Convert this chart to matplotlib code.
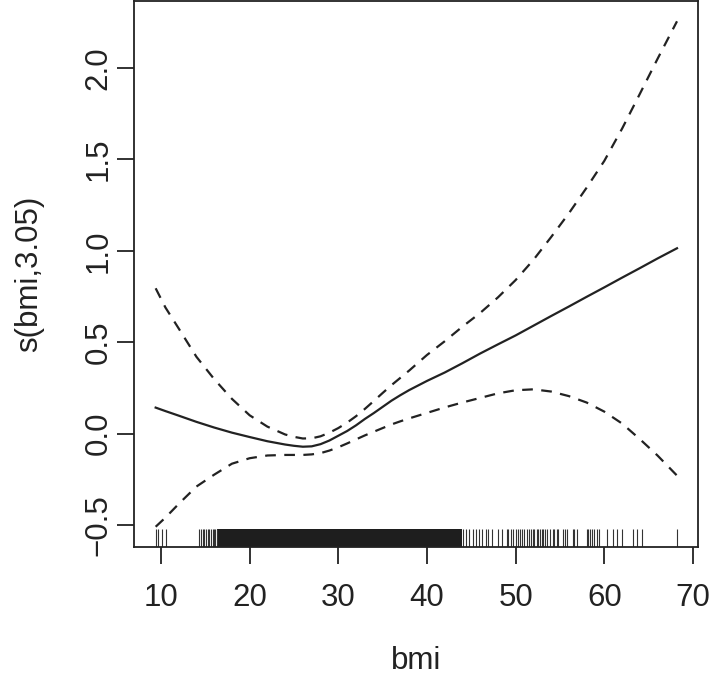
import matplotlib
matplotlib.use("Agg")
import matplotlib.pyplot as plt
from matplotlib.patches import Rectangle

plt.rcParams['font.family'] = ['Liberation Sans', 'DejaVu Sans']

# smooth term estimate and confidence band
bmi_grid = [9.4, 10.5, 12, 14, 16, 18, 20, 22, 24, 25, 26, 27, 28, 29, 30, 31, 32,
            33, 34, 35, 36, 37, 38, 40, 42, 44, 46, 48, 50, 52, 54, 56, 58, 60,
            62, 64, 66, 68.2]
fit = [0.142, 0.123, 0.098, 0.064, 0.033, 0.005, -0.019, -0.042, -0.060, -0.067,
       -0.072, -0.070, -0.058, -0.038, -0.012, 0.014, 0.045, 0.080, 0.112, 0.146,
       0.180, 0.210, 0.238, 0.288, 0.334, 0.385, 0.438, 0.488, 0.537, 0.590,
       0.643, 0.695, 0.748, 0.800, 0.853, 0.905, 0.958, 1.014]
upper = [0.795, 0.690, 0.575, 0.420, 0.298, 0.190, 0.100, 0.038, -0.005, -0.018,
         -0.027, -0.026, -0.015, 0.005, 0.030, 0.060, 0.095, 0.135, 0.178, 0.222,
         0.265, 0.305, 0.345, 0.430, 0.505, 0.585, 0.660, 0.745, 0.840, 0.950,
         1.075, 1.205, 1.345, 1.492, 1.668, 1.858, 2.050, 2.256]
lower = [-0.510, -0.460, -0.385, -0.290, -0.225, -0.165, -0.135, -0.120, -0.117, -0.117,
         -0.117, -0.114, -0.107, -0.093, -0.075, -0.054, -0.032, -0.010, 0.010, 0.030,
         0.050, 0.067, 0.083, 0.113, 0.143, 0.170, 0.195, 0.220, 0.237, 0.242,
         0.230, 0.205, 0.170, 0.120, 0.055, -0.030, -0.120, -0.230]

# rug of observed bmi values
rug_values = [9.4, 9.62, 10.15, 10.53,
              14.3, 14.5, 14.7, 14.85, 15.1, 15.25, 15.45, 15.6, 15.85, 16.0, 16.1, 16.3,
              44.10, 44.40, 44.77, 45.22, 45.53, 45.90, 46.17, 46.65, 46.92, 47.29,
              48.04, 48.42, 48.99, 49.17, 49.44, 49.73, 50.04, 50.30, 50.49, 50.68,
              50.94, 51.24, 51.54, 51.69, 51.92, 52.10, 52.37, 52.55, 52.74, 52.93,
              53.12, 53.31, 53.50, 53.87, 54.17, 54.32, 54.62, 54.81, 55.30, 55.56,
              55.75, 56.43, 56.58, 56.88, 58.01, 58.19, 58.38, 58.57, 58.83, 59.13,
              59.43, 60.26, 61.01, 61.39, 61.96, 63.27, 63.65, 64.21, 68.23]
rug_dense_range = [16.35, 43.92]

x_ticks = [10, 20, 30, 40, 50, 60, 70]
y_ticks = [-0.5, 0.0, 0.5, 1.0, 1.5, 2.0]
x_label = "bmi"
y_label = "s(bmi,3.05)"

ink = '#222222'
fs = 22.5
fig = plt.figure(figsize=(7.09, 6.78), dpi=100)
ax = fig.add_axes([0.1894, 0.1937, 0.7946, 0.8048])

ax.plot(bmi_grid, fit, color=ink, lw=1.6)
ax.plot(bmi_grid, upper, color=ink, lw=1.6, linestyle=(0, (4.8, 3.8)))
ax.plot(bmi_grid, lower, color=ink, lw=1.6, linestyle=(0, (4.8, 3.8)))

tr = ax.get_xaxis_transform()
ax.vlines(rug_values, 0, 0.032, transform=tr, color='#333333', lw=0.8)
ax.add_patch(Rectangle((rug_dense_range[0], 0), rug_dense_range[1] - rug_dense_range[0], 0.032,
                       transform=tr, facecolor='#1e1e1e', edgecolor='none'))

ax.set_xlim(6.99, 70.53)
ax.set_ylim(-0.619, 2.367)
ax.set_xticks(x_ticks)
ax.set_xticklabels([str(t) for t in x_ticks])
ax.set_yticks(y_ticks)
ax.set_yticklabels([f"{t:.1f}".replace('-', '\u2212') for t in y_ticks], rotation=90, va='center')

for s in ax.spines.values():
    s.set_color(ink)
    s.set_linewidth(1.3)
ax.tick_params(axis='both', direction='out', length=12, width=1.3, color=ink,
               labelsize=fs, labelcolor=ink)
ax.tick_params(axis='x', pad=14)
ax.tick_params(axis='y', pad=3)
ax.set_xlabel(x_label, fontsize=fs, color=ink, labelpad=24)
ax.set_ylabel(y_label, fontsize=fs, color=ink, labelpad=28)

fig.savefig("out.png", dpi=100)
